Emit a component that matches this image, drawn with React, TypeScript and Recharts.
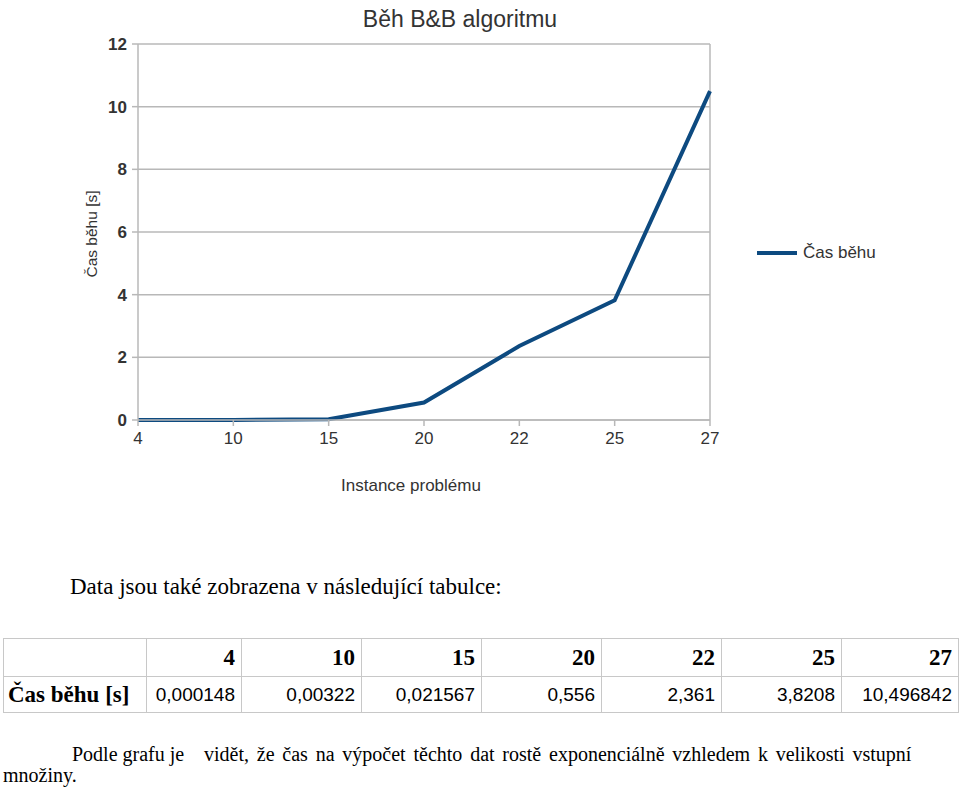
import React from 'react';
import { LineChart, Line, XAxis, YAxis, CartesianGrid, Legend, Label, ReferenceLine } from 'recharts';

const instances = ['4', '10', '15', '20', '22', '25', '27'];
const runTimes = [0.000148, 0.00322, 0.021567, 0.556, 2.361, 3.8208, 10.496842];
const runTimeLabels = ['0,000148', '0,00322', '0,021567', '0,556', '2,361', '3,8208', '10,496842'];
const yTicks = [0, 2, 4, 6, 8, 10, 12];

const seriesName = 'Čas běhu';
const data = instances.map((inst, i) => ({ inst, value: runTimes[i] }));

const LINE_COLOR = '#0d4a80';
const GRID = '#b8b8b8';
const TXT = '#333333';
const SANS = '"Liberation Sans", Arial, sans-serif';
const SERIF = '"Liberation Serif", "Times New Roman", serif';

const LegendContent = () => (
  <div style={{ display: 'flex', alignItems: 'center', fontFamily: SANS, fontSize: 17, color: TXT }}>
    <div style={{ width: 40, height: 4, background: LINE_COLOR, marginRight: 6 }} />
    <span>{seriesName}</span>
  </div>
);

const cellBorder = '1px solid #c8c8c8';

export default function App() {
  return (
    <div style={{ position: 'absolute', left: 0, top: 0, width: 960, height: 788, background: '#fff', overflow: 'hidden' }}>
      <div style={{ position: 'absolute', left: 0, top: 6, width: 920, textAlign: 'center', fontFamily: SANS, fontSize: 23, color: TXT }}>
        Běh B&amp;B algoritmu
      </div>
      <div style={{ position: 'absolute', left: 0, top: 0 }}>
        <LineChart width={960} height={520} data={data} margin={{ top: 44, right: 250, bottom: 70, left: 78 }}>
          <CartesianGrid horizontal={true} vertical={false} stroke={GRID} strokeWidth={1.5} />
          <ReferenceLine x="27" stroke={GRID} strokeWidth={1.5} />
          <XAxis
            dataKey="inst"
            type="category"
            stroke={GRID}
            strokeWidth={1.5}
            tickSize={6}
            tickMargin={6}
            tick={{ fill: TXT, fontSize: 17, fontFamily: SANS }}
          >
            <Label
              content={() => (
                <text x={411} y={491} textAnchor="middle" fill={TXT} fontSize={17} fontFamily={SANS}>
                  Instance problému
                </text>
              )}
            />
          </XAxis>
          <YAxis
            width={60}
            domain={[0, 12]}
            ticks={yTicks}
            interval={0}
            stroke={GRID}
            strokeWidth={1.5}
            tickSize={6}
            tickMargin={5}
            tick={{ fill: TXT, fontSize: 17, fontFamily: SANS, fontWeight: 'bold' }}
          >
            <Label
              content={() => (
                <text x={97} y={234} transform="rotate(-90 97 234)" textAnchor="middle" fill={TXT} fontSize={15.5} fontFamily={SANS}>
                  Čas běhu [s]
                </text>
              )}
            />
          </YAxis>
          <Legend
            layout="vertical"
            align="center"
            verticalAlign="middle"
            content={() => <LegendContent />}
            wrapperStyle={{ position: 'absolute', left: 757, top: 243, width: 160 }}
          />
          <Line
            type="linear"
            dataKey="value"
            name={seriesName}
            stroke={LINE_COLOR}
            strokeWidth={4}
            dot={false}
            isAnimationActive={false}
          />
        </LineChart>
      </div>

      <div style={{ position: 'absolute', left: 70, top: 574, fontFamily: SERIF, fontSize: 23, color: '#000', whiteSpace: 'nowrap' }}>
        Data jsou také zobrazena v následující tabulce:
      </div>

      <table
        style={{
          position: 'absolute',
          left: 3,
          top: 638,
          width: 955,
          borderCollapse: 'collapse',
          tableLayout: 'fixed',
        }}
      >
        <colgroup>
          <col style={{ width: 143 }} />
          <col style={{ width: 95 }} />
          <col style={{ width: 120 }} />
          <col style={{ width: 120 }} />
          <col style={{ width: 120 }} />
          <col style={{ width: 120 }} />
          <col style={{ width: 120 }} />
          <col style={{ width: 117 }} />
        </colgroup>
        <tbody>
          <tr style={{ height: 38 }}>
            <td style={{ border: cellBorder }} />
            {instances.map((inst) => (
              <td
                key={inst}
                style={{ border: cellBorder, textAlign: 'right', fontFamily: SERIF, fontWeight: 'bold', fontSize: 23, padding: '0 6px', color: '#000' }}
              >
                {inst}
              </td>
            ))}
          </tr>
          <tr style={{ height: 36 }}>
            <td style={{ border: cellBorder, fontFamily: SERIF, fontWeight: 'bold', fontSize: 23, padding: '0 4px', color: '#000', whiteSpace: 'nowrap' }}>
              {seriesName} [s]
            </td>
            {runTimeLabels.map((v) => (
              <td
                key={v}
                style={{ border: cellBorder, textAlign: 'right', fontFamily: SANS, fontSize: 19, padding: '0 6px', color: '#000', whiteSpace: 'nowrap' }}
              >
                {v}
              </td>
            ))}
          </tr>
        </tbody>
      </table>

      <div style={{ position: 'absolute', left: 72, top: 743, fontFamily: SERIF, fontSize: 20, color: '#000', whiteSpace: 'nowrap' }}>
        Podle grafu je
      </div>
      <div style={{ position: 'absolute', left: 204, top: 743, fontFamily: SERIF, fontSize: 20, color: '#000', whiteSpace: 'nowrap', wordSpacing: 2.8 }}>
        vidět, že čas na výpočet těchto dat rostě exponenciálně vzhledem k velikosti vstupní
      </div>
      <div style={{ position: 'absolute', left: 3, top: 764, fontFamily: SERIF, fontSize: 20, color: '#000', whiteSpace: 'nowrap' }}>
        množiny.
      </div>
    </div>
  );
}
